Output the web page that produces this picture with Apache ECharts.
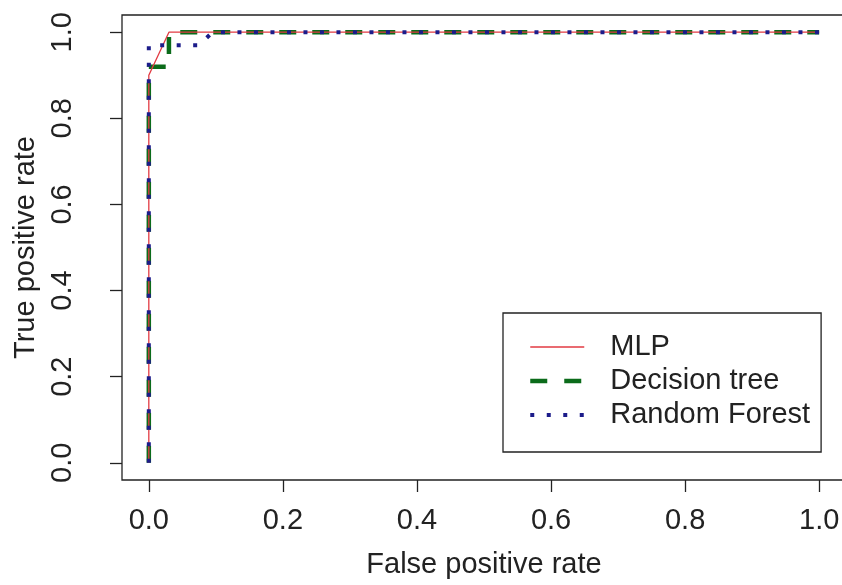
<!DOCTYPE html>
<html>
<head>
<meta charset="utf-8">
<script src="https://cdn.jsdelivr.net/npm/echarts@6/dist/echarts.min.js"></script>
<style>
html,body{margin:0;padding:0;background:#fff;overflow:hidden;}
#chart{width:842px;height:585px;}
</style>
</head>
<body>
<div id="chart"></div>
<script>
// ROC curve data (false positive rate, true positive rate)
const mlpFpr = [0, 0, 0.03, 1];
const mlpTpr = [0, 0.90, 1, 1];
const dtFpr = [0, 0, 0.03, 0.03, 1];
const dtTpr = [0, 0.92, 0.92, 1, 1];
const rfFpr = [0, 0, 0.075, 0.095, 1];
const rfTpr = [0, 0.97, 0.97, 1, 1];
const seriesNames = ['MLP', 'Decision tree', 'Random Forest'];
const tickValues = [0, 0.2, 0.4, 0.6, 0.8, 1.0];
const xTitle = 'False positive rate';
const yTitle = 'True positive rate';

function pairs(xs, ys) { return xs.map((x, i) => [x, ys[i]]); }

const FONT = '"Liberation Sans", Arial, Helvetica, sans-serif';
const TXT = '#222';
const FS = 29;
const C_MLP = '#E23A42', C_DT = '#0B6B1A', C_RF = '#1C1C8A';

const chart = echarts.init(document.getElementById('chart'));
chart.setOption({
  backgroundColor: '#fff',
  animation: false,
  textStyle: { fontFamily: FONT },
  grid: {
    left: 122, top: 15, width: 724, height: 465,
    outerBoundsMode: 'none', containLabel: false,
    show: true, borderColor: '#222', borderWidth: 1.3, backgroundColor: 'transparent'
  },
  xAxis: {
    type: 'value', min: -0.04, max: 1.04,
    name: xTitle, nameLocation: 'middle', nameGap: 70,
    nameTextStyle: { fontSize: FS, color: TXT, fontFamily: FONT },
    axisLine: { show: false, onZero: false },
    splitLine: { show: false },
    axisTick: { show: true, inside: false, length: 12, customValues: tickValues, lineStyle: { color: '#222', width: 1.3 } },
    axisLabel: { customValues: tickValues, margin: 26, fontSize: FS, color: TXT, fontFamily: FONT,
      formatter: v => v.toFixed(1) }
  },
  yAxis: {
    type: 'value', min: -0.04, max: 1.04,
    name: yTitle, nameLocation: 'middle', nameGap: 80, nameRotate: 90,
    nameTextStyle: { fontSize: FS, color: TXT, fontFamily: FONT },
    axisLine: { show: false, onZero: false },
    splitLine: { show: false },
    axisTick: { show: true, inside: false, length: 12, customValues: tickValues, lineStyle: { color: '#222', width: 1.3 } },
    axisLabel: { customValues: tickValues, margin: 45, rotate: 90, fontSize: FS, color: TXT, fontFamily: FONT,
      formatter: v => v.toFixed(1) }
  },
  legend: {
    orient: 'vertical', left: 503, top: 313,
    padding: [17, 11, 20, 25],
    itemGap: 0, itemWidth: 54, itemHeight: 14,
    borderColor: '#222', borderWidth: 1.3, backgroundColor: '#fff',
    itemStyle: { opacity: 0, color: 'rgba(0,0,0,0)', borderWidth: 0 },
    textStyle: { fontSize: FS, color: TXT, fontFamily: FONT, lineHeight: 34, padding: [0, 0, 0, 21] },
    data: [
      { name: seriesNames[0], lineStyle: { width: 1.3, color: C_MLP, type: 'solid' } },
      { name: seriesNames[1], lineStyle: { width: 4.5, color: C_DT, type: [17, 17], cap: 'butt' } },
      { name: seriesNames[2], lineStyle: { width: 4, color: C_RF, type: [4, 12.5], cap: 'butt' } }
    ]
  },
  series: [
    { name: seriesNames[0], type: 'line', data: pairs(mlpFpr, mlpTpr), symbol: 'none', z: 3,
      lineStyle: { color: C_MLP, width: 1.3 }, itemStyle: { color: C_MLP } },
    { name: seriesNames[1], type: 'line', data: pairs(dtFpr, dtTpr), symbol: 'none', z: 2,
      lineStyle: { color: C_DT, width: 4.5, type: [17, 16], cap: 'butt' }, itemStyle: { color: C_DT } },
    { name: seriesNames[2], type: 'line', data: pairs(rfFpr, rfTpr), symbol: 'none', z: 4,
      lineStyle: { color: C_RF, width: 4, type: [4, 12.5], cap: 'butt' }, itemStyle: { color: C_RF } }
  ]
});
</script>
</body>
</html>
